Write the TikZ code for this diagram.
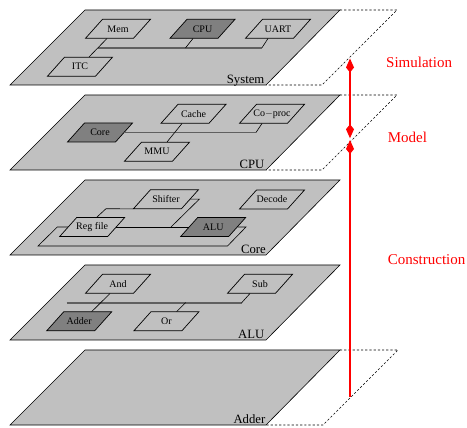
\documentclass[tikz,border=0pt]{standalone}
\usepackage{fontspec}
\setmainfont{Liberation Serif}
\usetikzlibrary{calc,arrows.meta}
\definecolor{plane}{RGB}{192,192,192}
\definecolor{darkbox}{RGB}{128,128,128}
\definecolor{busc}{RGB}{96,96,96}
\tikzset{
  layer/.style={fill=plane, draw=black, line width=0.6pt},
  ghost/.style={draw=black, dash pattern=on 2.2pt off 2pt, line width=0.7pt},
  boxtext/.style={inner sep=0pt, minimum width=48pt, minimum height=19pt, font=\fontsize{10}{12}\selectfont},
  lname/.style={anchor=base east, inner sep=0pt, font=\fontsize{12.7}{14}\selectfont},
  wire/.style={draw=black, line width=0.6pt},
  bus/.style={draw=busc, line width=1.8pt},
  redlab/.style={text=red, anchor=west, inner sep=0pt, font=\fontsize{15}{17}\selectfont},
  redarrow/.style={draw=red, line width=1.8pt}
}
\newcommand\pbox[4][none]{%
  \draw[line width=0.7pt, fill=#1] (#3) ++(-15.5,-9.5) -- ++(48,0) -- ++(-17,19) -- ++(-48,0) -- cycle;
  \node[boxtext] (#2) at (#3) {#4};}
\newcommand\layerplane[1]{%
  \draw[layer] (85,#1) -- (340,#1) -- (266,#1+75) -- (10,#1+75) -- cycle;}
\begin{document}
\begin{tikzpicture}[x=1pt,y=-1pt]
\useasboundingbox (0,0) rectangle (467,428);
% ---------------- System layer
\layerplane{10}
\draw[ghost] (340,10) -- (397,10) -- (322,85) -- (266,85);
\pbox{mem}{118,28.8}{Mem}
\pbox[darkbox]{scpu}{202.5,28.8}{CPU}
\pbox{uart}{278,28.8}{UART}
\pbox{itc}{80,66.7}{ITC}
\coordinate (sbusL) at (98,47.7);
\coordinate (sbusR) at (262,47.7);
\draw[bus] (sbusL) -- (sbusR);
\draw[wire] ($(mem.south)+(-11,0)$) -- ($(itc.north)+(9,0)$);
\draw[wire] ($(scpu.south)+(-9.5,0)$) -- ($(scpu.south)+(-17,9.4)$);
\draw[wire] ($(uart.south)+(-10,0)$) -- (sbusR);
\node[lname] (lsys) at (264.5,83.3) {System};
% ---------------- CPU layer
\layerplane{95}
\draw[ghost] (340,95) -- (397,95) -- (322,170) -- (266,170);
\pbox[darkbox]{core}{100,132.5}{Core}
\pbox{cache}{193.5,113.8}{Cache}
\pbox{coproc}{272,113.8}{Co{\fontsize{10}{12}\selectfont $-$}proc}
\pbox{mmu}{157,151.7}{MMU}
\coordinate (cbusR) at (256,132.5);
\draw[bus] (core.east) -- (cbusR);
\draw[wire] (cbusR) -- ($(coproc.south)+(-10,0)$);
\draw[wire] ($(cache.south)+(-11.5,0)$) -- ($(mmu.north)+(10,0)$);
\node[lname] (lcpu) at (264.5,168.3) {CPU};
% ---------------- Core layer
\layerplane{180}
\pbox{shifter}{166,199.2}{Shifter}
\pbox{decode}{272,199.5}{Decode}
\pbox{regfile}{92.2,227}{Reg file}
\pbox[darkbox]{alu}{213.2,227}{ALU}
\draw[wire] ($(shifter.south)+(-32.5,0)$) -- (106,208.7) -- ($(regfile.north)+(4.5,0)$);
\draw[wire] (shifter.east) -- (199.3,199.2) -- (171,227);
\draw[wire] (regfile.east) -- (alu.west);
\draw[wire] (regfile.west) -- (57.3,227) -- (38,246) -- (227.5,246) -- (246,227) -- (alu.east);
\node[lname] (lcore) at (266,253.2) {Core};
% ---------------- ALU layer
\layerplane{265}
\pbox{and}{118,283.8}{And}
\pbox{sub}{260,283.8}{Sub}
\pbox[darkbox]{adder}{79.2,321.3}{Adder}
\pbox{or}{166.4,321.3}{Or}
\coordinate (abusL) at (66.7,302.7);
\coordinate (abusR) at (241.7,302.7);
\draw[bus] (abusL) -- (abusR);
\draw[wire] (abusR) -- ($(sub.south)+(-10,0)$);
\draw[wire] ($(and.south)+(-8,0)$) -- ($(adder.north)+(12.5,0)$);
\draw[wire] ($(or.north)+(10.3,0)$) -- ($(or.north)+(19.3,-9)$);
\node[lname] (lalu) at (264.5,338.5) {ALU};
% ---------------- Adder layer
\layerplane{350}
\draw[ghost] (340,350) -- (398,350) -- (323,425) -- (266,425);
\node[lname] (ladder) at (265.5,423.3) {Adder};
% ---------------- red arrows
\coordinate (asim) at (350,58.5);
\coordinate (amodA) at (350,138.3);
\coordinate (amodB) at (350,140);
\coordinate (acon) at (350,396.7);
\draw[redarrow, {Kite[length=14pt,width=8pt,inset=5pt]}-{Kite[length=14pt,width=8pt,inset=5pt]}] (amodA) -- (asim);
\draw[redarrow, -{Kite[length=14pt,width=8pt,inset=5pt]}] (acon) -- (amodB);
\node[redlab] (tsim) at (386,62) {Simulation};
\node[redlab] (tmod) at (387.7,137) {Model};
\node[redlab] (tcon) at (387.7,260) {Construction};
\end{tikzpicture}
\end{document}
